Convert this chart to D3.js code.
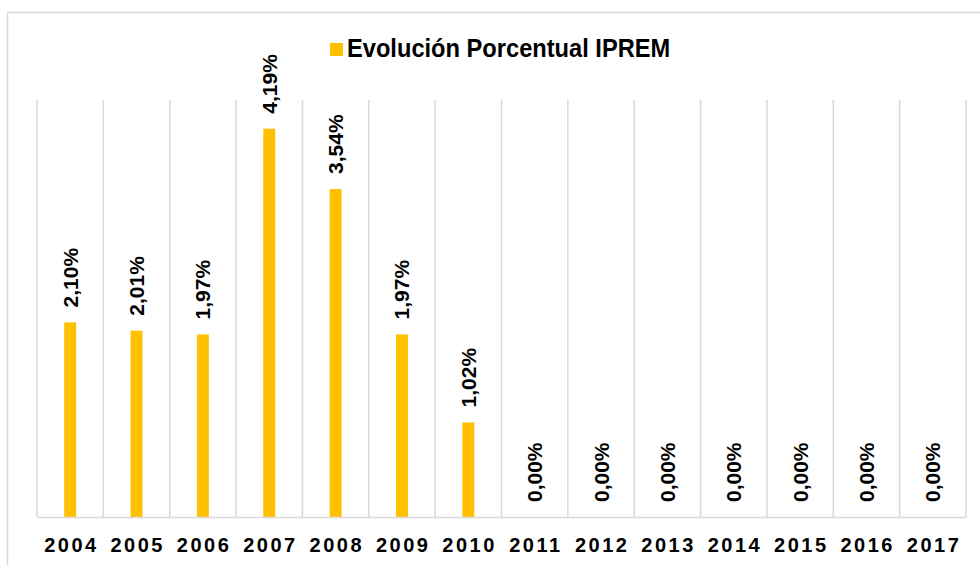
<!DOCTYPE html>
<html>
<head>
<meta charset="utf-8">
<script src="https://cdn.jsdelivr.net/npm/d3@7.9.0/dist/d3.min.js"></script>
<style>
  html, body { margin: 0; padding: 0; background: #fff; }
  svg { display: block; font-family: "Liberation Sans", Arial, sans-serif; }
</style>
</head>
<body>
<div id="chart"></div>
<script>
// === Data ===
const years = ["2004", "2005", "2006", "2007", "2008", "2009", "2010",
               "2011", "2012", "2013", "2014", "2015", "2016", "2017"];
const values = [2.10, 2.01, 1.97, 4.19, 3.54, 1.97, 1.02, 0, 0, 0, 0, 0, 0, 0];
const seriesName = "Evolución Porcentual IPREM";

// === Layout ===
const W = 980, H = 565;
const plot = { left: 37, right: 966, top: 100, bottom: 517 };
const barColor = "#FFC000";
const gridColor = "#d9d9d9";

const svg = d3.select("#chart").append("svg")
    .attr("width", W)
    .attr("height", H);

// outer chart frame (runs off the right/bottom edge like the original)
svg.append("rect")
    .attr("x", 7.5).attr("y", 12.5)
    .attr("width", 1000).attr("height", 600)
    .attr("fill", "#fff")
    .attr("stroke", gridColor)
    .attr("stroke-width", 1.5);

// scales
const x = d3.scaleBand()
    .domain(years)
    .range([plot.left, plot.right])
    .padding(0);

const y = d3.scaleLinear()
    .domain([0, 4.5])
    .range([plot.bottom, plot.top]);

const barW = x.bandwidth() * 0.18;

// vertical gridlines at category boundaries
const bounds = years.map(d => x(d)).concat([x(years[years.length - 1]) + x.bandwidth()]);
svg.append("g")
    .selectAll("line")
    .data(bounds)
    .join("line")
    .attr("x1", d => d).attr("x2", d => d)
    .attr("y1", plot.top).attr("y2", plot.bottom)
    .attr("stroke", gridColor)
    .attr("stroke-width", 1.5);

// bars
svg.append("g")
    .selectAll("rect")
    .data(values)
    .join("rect")
    .attr("x", (d, i) => x(years[i]) + x.bandwidth() / 2 - barW / 2)
    .attr("y", d => y(d))
    .attr("width", barW)
    .attr("height", d => y(0) - y(d))
    .attr("fill", barColor);

// x axis
const xAxis = svg.append("g")
    .attr("transform", `translate(0,${plot.bottom})`)
    .call(d3.axisBottom(x).tickSize(0).tickPadding(0));
xAxis.select(".domain")
    .attr("stroke", gridColor)
    .attr("stroke-width", 1.5);
xAxis.selectAll(".tick text")
    .attr("y", 35)
    .attr("dy", 0)
    .attr("dx", 1.2)
    .attr("fill", "#000")
    .style("font-family", "'Liberation Sans', Arial, sans-serif")
    .style("font-size", "20px")
    .style("font-weight", "bold")
    .style("letter-spacing", "2.5px");

// value labels (rotated)
const fmt = v => d3.format(".2f")(v).replace(".", ",") + "%";
svg.append("g")
    .selectAll("text")
    .data(values)
    .join("text")
    .attr("transform", (d, i) => {
        const cx = x(years[i]) + x.bandwidth() / 2 + 7.5;
        return `translate(${cx},${y(d) - 15}) rotate(-90)`;
    })
    .attr("text-anchor", "start")
    .attr("fill", "#000")
    .style("font-size", "21px")
    .style("font-weight", "bold")
    .text(d => fmt(d));

// legend
const legend = svg.append("g").attr("transform", "translate(330,43)");
legend.append("rect")
    .attr("width", 13).attr("height", 13)
    .attr("fill", barColor);
legend.append("text")
    .attr("transform", "translate(17,14) scale(0.91,1)")
    .attr("fill", "#000")
    .style("font-size", "26px")
    .style("font-weight", "bold")
    .text(seriesName);
</script>
</body>
</html>
